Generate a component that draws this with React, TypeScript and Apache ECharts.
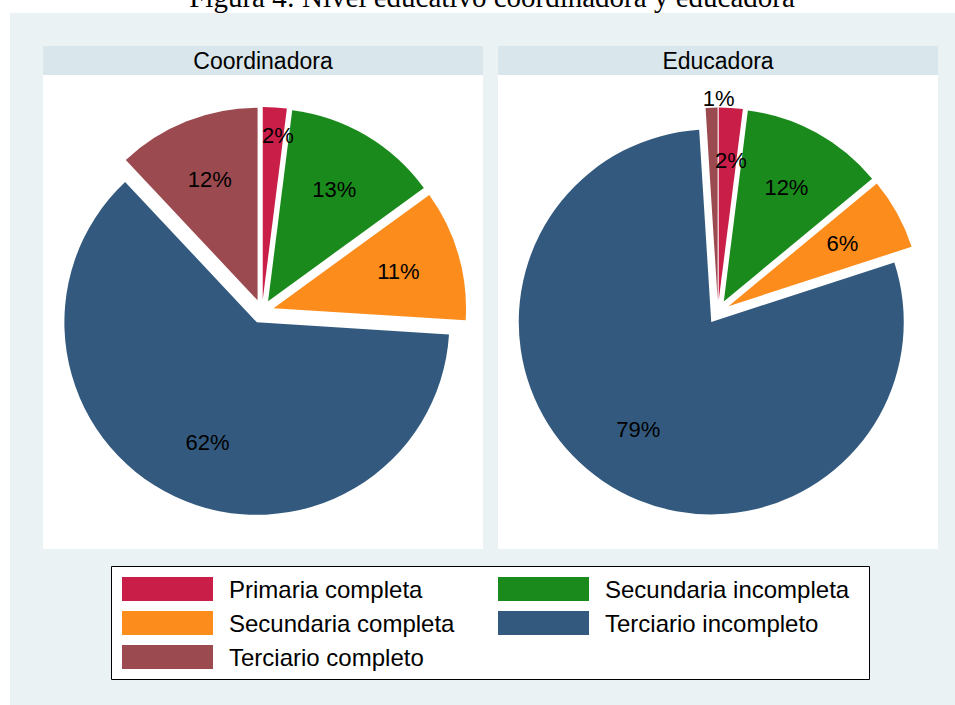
import React, { useEffect, useRef } from "react";
import * as echarts from "echarts";

const CATEGORIES = [
  "Primaria completa",
  "Secundaria incompleta",
  "Secundaria completa",
  "Terciario incompleto",
  "Terciario completo",
];
const COORDINADORA = [2, 13, 11, 62, 12];
const EDUCADORA = [2, 12, 6, 79, 1];
const PANEL_TITLES = ["Coordinadora", "Educadora"];
const FIG_TITLE = "Figura 4: Nivel educativo coordinadora y educadora";
const COLORS = ["#c81e48", "#1a8a1c", "#fc8c1c", "#335a7e", "#9b4a50"];

// small nudges of a few crowded labels (dx, dy in px)
const NUDGE_COORD: number[][] = [[7, -34], [0, 0], [0, 0], [6, 3], [0, 0]];
const NUDGE_EDUC: number[][] = [[4, -10], [0, 0], [0, 0], [0, 0], [5, -72]];

const SANS = "Liberation Sans, Arial, Helvetica, sans-serif";

export default function App() {
  const ref = useRef<HTMLDivElement>(null);
  useEffect(() => {
    if (!ref.current) return;
    const chart = echarts.init(ref.current, null, { renderer: "svg" });
    const R = 192.5;
    const centers = [
      [262, 311.5],
      [718, 312],
    ];
    const values = [COORDINADORA, EDUCADORA];
    const nudges = [NUDGE_COORD, NUDGE_EDUC];

    const sliceSeries = values.map((vals, k) => ({
      type: "pie",
      name: PANEL_TITLES[k],
      center: centers[k],
      radius: R,
      startAngle: 90,
      clockwise: true,
      selectedMode: "multiple",
      selectedOffset: 12,
      silent: true,
      emphasis: { disabled: true },
      label: { show: false },
      labelLine: { show: false },
      itemStyle: { borderWidth: 0 },
      select: { itemStyle: { borderWidth: 0 } },
      data: CATEGORIES.map((c, i) => ({
        name: c,
        value: vals[i],
        selected: true,
        itemStyle: { color: COLORS[i] },
      })),
    }));

    const labelSeries = values.map((vals, k) => ({
      type: "pie",
      name: PANEL_TITLES[k] + " labels",
      center: centers[k],
      radius: [61.5, R],
      startAngle: 90,
      clockwise: true,
      selectedMode: "multiple",
      selectedOffset: 12,
      silent: true,
      emphasis: { disabled: true },
      itemStyle: { color: "rgba(0,0,0,0)", borderWidth: 0 },
      label: {
        show: true,
        position: "inside",
        opacity: 1,
        color: "#000",
        fontSize: 22,
        fontFamily: SANS,
        formatter: (p: any) => Math.round(p.percent) + "%",
      },
      labelLine: { show: false },
      labelLayout: (p: any) => {
        const n = nudges[k][p.dataIndex] || [0, 0];
        return { dx: n[0], dy: n[1] };
      },
      data: CATEGORIES.map((c, i) => ({
        name: c,
        value: vals[i],
        selected: true,
        itemStyle: { color: "rgba(0,0,0,0)" },
      })),
    }));

    const legendCommon = {
      orient: "vertical",
      top: 572,
      icon: "rect",
      itemWidth: 91,
      itemHeight: 24,
      itemGap: 10,
      selectedMode: false,
      textStyle: {
        fontSize: 24,
        fontFamily: SANS,
        color: "#000",
        lineHeight: 24,
        padding: [0, 0, 0, 11],
      },
    };

    const panels = [43, 498];
    const graphic: any[] = [
      {
        type: "rect",
        shape: { x: 10, y: 13, width: 945, height: 692 },
        style: { fill: "#eaf2f3" },
        z: -10,
      },
      {
        type: "text",
        x: 492,
        y: -3,
        style: {
          text: FIG_TITLE,
          font: "29px 'Liberation Serif', 'Times New Roman', serif",
          fill: "#000",
          align: "center",
          verticalAlign: "middle",
        },
        z: -9,
      },
    ];
    panels.forEach((x0, k) => {
      graphic.push({
        type: "rect",
        shape: { x: x0, y: 46, width: 440, height: 29 },
        style: { fill: "#d9e6eb" },
        z: -9,
      });
      graphic.push({
        type: "rect",
        shape: { x: x0, y: 75, width: 440, height: 474 },
        style: { fill: "#ffffff" },
        z: -9,
      });
      graphic.push({
        type: "text",
        x: x0 + 220,
        y: 60.5,
        style: {
          text: PANEL_TITLES[k],
          font: "23px " + SANS,
          fill: "#000",
          align: "center",
          verticalAlign: "middle",
        },
        z: -8,
      });
    });
    graphic.push({
      type: "rect",
      shape: { x: 111.5, y: 566.5, width: 758, height: 113 },
      style: { fill: "#ffffff", stroke: "#000", lineWidth: 1 },
      z: -8,
    });

    chart.setOption({
      animation: false,
      backgroundColor: "transparent",
      graphic,
      legend: [
        {
          ...legendCommon,
          left: 117,
          data: [CATEGORIES[0], CATEGORIES[2], CATEGORIES[4]],
        },
        {
          ...legendCommon,
          left: 493,
          data: [CATEGORIES[1], CATEGORIES[3]],
        },
      ],
      series: [...sliceSeries, ...labelSeries],
    } as any);
    return () => chart.dispose();
  }, []);
  return (
    <div
      ref={ref}
      style={{ position: "absolute", left: 0, top: 0, width: 955, height: 705 }}
    />
  );
}
